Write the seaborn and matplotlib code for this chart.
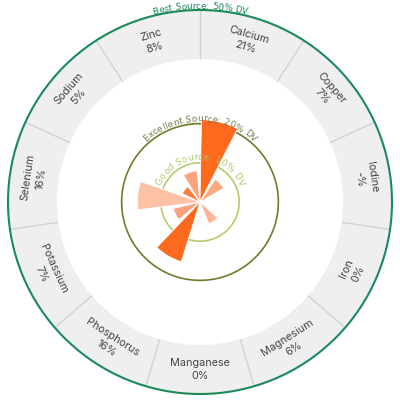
import numpy as np
import pandas as pd
import seaborn as sns
import matplotlib
matplotlib.use("Agg")
import matplotlib.pyplot as plt
from matplotlib.font_manager import FontProperties

# nutrients, % daily value (Iodine has no value -> shown as "-%")
nutrients = ["Calcium", "Copper", "Iodine", "Iron", "Magnesium", "Manganese",
             "Phosphorus", "Potassium", "Selenium", "Sodium", "Zinc"]
pct_dv = [21, 7, np.nan, 0, 6, 0, 16, 7, 16, 5, 8]
bar_colors = ["#fd6a1e", "#fca983", "#fca983", "#fca983", "#fcb396", "#fcb396",
              "#fd6a1e", "#fca27d", "#fdc2a6", "#f97c3c", "#fba37b"]

# reference circles
ref_levels = [10, 20]
ref_labels = ["Good Source: 10% DV", "Excellent Source: 20% DV"]
best_label = "Best Source: 50% DV"

sns.set_theme(style="white")
plt.rcParams['font.family'] = ['Inter', 'DejaVu Sans']

RMAX = 49.0
RING_IN = 36.5
AX_R_PX = 192.0
px_per_unit = AX_R_PX / RMAX

fig = plt.figure(figsize=(4, 4), dpi=100)
fig.patch.set_facecolor("white")
ax = fig.add_axes([8 / 400, 6 / 400, 384 / 400, 384 / 400], projection="polar")
ax.set_theta_zero_location("N")
ax.set_theta_direction(-1)
ax.set_ylim(0, RMAX)
ax.set_xticks([])
ax.set_yticks([])
ax.grid(False)
ax.spines["polar"].set_color("#1b8a5a")
ax.spines["polar"].set_linewidth(1.5)

df = pd.DataFrame({"nutrient": nutrients, "value": pct_dv, "color": bar_colors})
n = len(df)
step = 2 * np.pi / n
starts = np.arange(n) * step

# outer ring of labelled segments
ax.bar(starts, RMAX - RING_IN, bottom=RING_IN, width=step, align="edge",
       color="#efefef", edgecolor="none", zorder=1)
ax.vlines(starts, RING_IN, RMAX, color="#d2d2d2", lw=1.0, zorder=1.2)

# reference circles
th = np.linspace(0, 2 * np.pi, 400)
ax.plot(th, np.full_like(th, ref_levels[0]), color="#b5cc6e", lw=1.2, zorder=1.5)
ax.plot(th, np.full_like(th, ref_levels[1]), color="#6e7d2b", lw=1.2, zorder=1.5)

# value bars
ax.bar(starts + np.radians(1), df["value"].fillna(0), width=step * 0.8, align="edge",
       color=df["color"], edgecolor="white", linewidth=0.6, zorder=2)

# segment labels
for i, row in df.iterrows():
    a = np.degrees(starts[i] + step / 2)
    rot = -a if (a < 90 or a > 270) else 180 - a
    val = "-" if pd.isna(row["value"]) else f"{int(row['value'])}"
    ax.text(np.radians(a), (RING_IN + RMAX) / 2, f"{row['nutrient']}\n{val}%",
            rotation=rot, rotation_mode="anchor", ha="center", va="center",
            fontsize=7.8, color="#454545", linespacing=1.35, zorder=4)

renderer = fig.canvas.get_renderer()


def curved_text(s, r_base, size, color, alpha=1.0):
    prop = FontProperties(family="DejaVu Sans", size=size)
    lw = renderer.get_text_width_height_descent("l", prop, ismath=False)[0]

    def w(k):
        return renderer.get_text_width_height_descent(s[:k] + "l", prop, ismath=False)[0] - lw

    total = w(len(s))
    r_px = r_base * px_per_unit
    for i, ch in enumerate(s):
        if ch == " ":
            continue
        mid = (w(i) + w(i + 1)) / 2 - total / 2
        a = np.degrees(mid / r_px)
        ax.text(np.radians(a), r_base, ch, rotation=-a, rotation_mode="anchor",
                ha="center", va="baseline", fontproperties=prop, color=color,
                alpha=alpha, zorder=5)


curved_text(ref_labels[0], 10.8, 6.6, "#a9c46a", 0.9)
curved_text(ref_labels[1], 20.6, 6.6, "#5f6e3c", 0.85)
curved_text(best_label, RMAX + 0.3, 6.4, "#1b8a5a")

plt.savefig("out.png", dpi=100)
